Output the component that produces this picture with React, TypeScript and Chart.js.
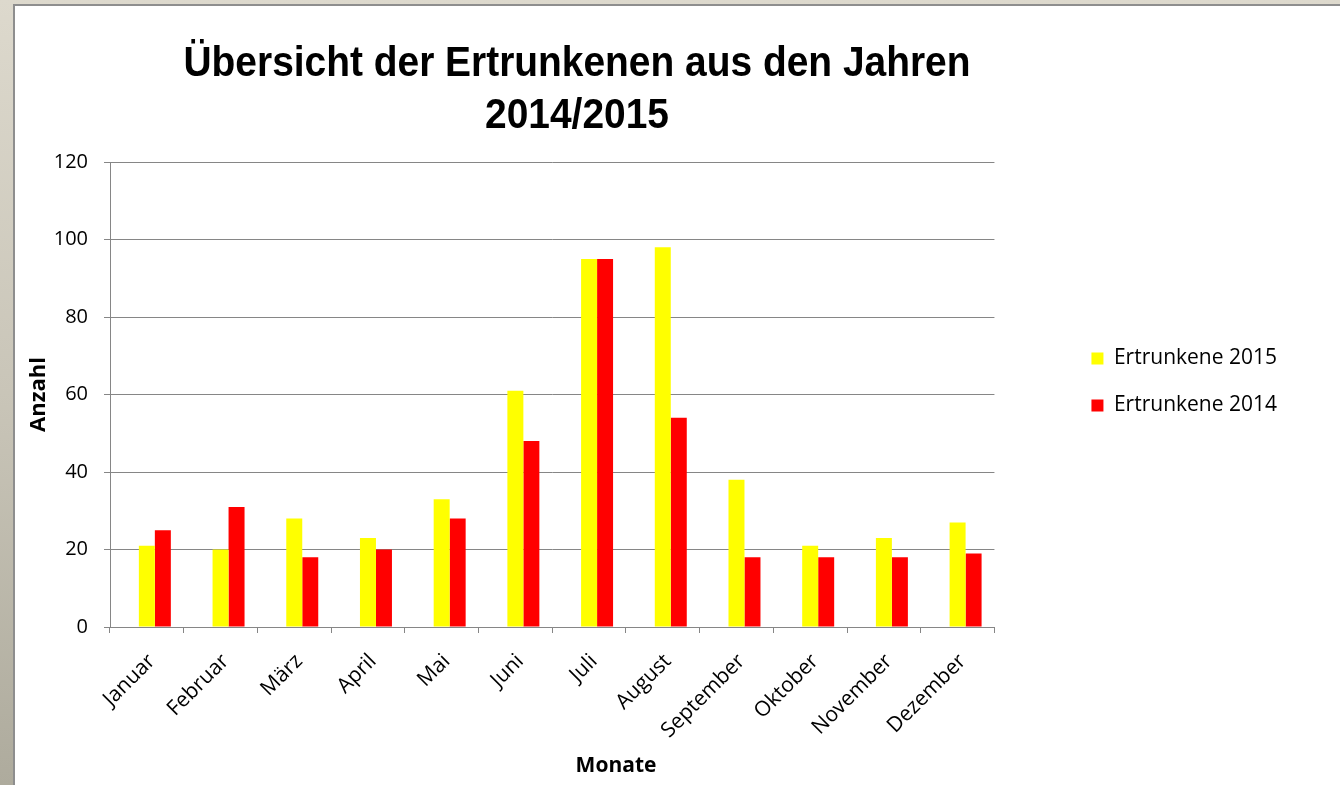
import React, { useEffect, useRef } from "react";
import { Chart, registerables } from "chart.js";

Chart.register(...registerables);

const months = ["Januar", "Februar", "März", "April", "Mai", "Juni", "Juli", "August", "September", "Oktober", "November", "Dezember"];
const values2015 = [21, 20, 28, 23, 33, 61, 95, 98, 38, 21, 23, 27];
const values2014 = [25, 31, 18, 20, 28, 48, 95, 54, 18, 18, 18, 19];
const titleLines = ["Übersicht der Ertrunkenen aus den Jahren", "2014/2015"];
const xAxisTitle = "Monate";
const yAxisTitle = "Anzahl";

const FONT = "'Open Sans', 'Noto Sans', sans-serif";

const titlePlugin = {
  id: "customTitle",
  afterInit(chart: any) {
    const legend = chart.legend;
    if (legend) {
      const origFit = legend.fit.bind(legend);
      legend.fit = function () {
        this.maxWidth = 400;
        origFit();
      };
    }
  },
  beforeDatasetsDraw(chart: any) {
    chart.ctx.save();
    chart.ctx.translate(8, 0);
  },
  afterDatasetsDraw(chart: any) {
    chart.ctx.restore();
  },
  afterDraw(chart: any) {
    const ctx = chart.ctx as CanvasRenderingContext2D;
    ctx.save();
    ctx.fillStyle = "#000";
    ctx.textAlign = "center";
    ctx.textBaseline = "alphabetic";
    ctx.font = "bold 42px 'Liberation Sans Narrow', 'Liberation Sans', Arial, sans-serif";
    const target = 787;
    const w = ctx.measureText(titleLines[0]).width;
    const cx = 562;
    if (w <= target - 20) {
      (ctx as any).letterSpacing = ((target - w) / (titleLines[0].length - 1)).toFixed(2) + "px";
      titleLines.forEach((line, i) => ctx.fillText(line, cx, 70 + i * 52));
    } else {
      const sx = target / w;
      ctx.translate(cx, 0);
      ctx.scale(sx, 1);
      titleLines.forEach((line, i) => ctx.fillText(line, 0, 70 + i * 52));
    }
    ctx.restore();

    ctx.save();
    ctx.fillStyle = "#000";
    ctx.textAlign = "center";
    ctx.textBaseline = "middle";
    ctx.font = "bold 21px " + FONT;
    ctx.fillText(xAxisTitle, 601, 760);
    ctx.restore();
  },
};

export default function App() {
  const ref = useRef<HTMLCanvasElement | null>(null);

  useEffect(() => {
    if (!ref.current) return;
    const chart = new Chart(ref.current, {
      type: "bar",
      data: {
        labels: months,
        datasets: [
          { label: "Ertrunkene 2015", data: values2015, backgroundColor: "#ffff00", borderWidth: 0 },
          { label: "Ertrunkene 2014", data: values2014, backgroundColor: "#ff0000", borderWidth: 0 },
        ],
      },
      plugins: [titlePlugin],
      options: {
        responsive: false,
        animation: false,
        devicePixelRatio: 1,
        layout: { padding: { left: 11, right: 53, top: 156, bottom: 8 } },
        datasets: { bar: { categoryPercentage: 0.434, barPercentage: 1 } },
        plugins: {
          title: { display: false },
          legend: {
            position: "right",
            align: "start",
            fullSize: false,
            title: { display: true, text: " ", font: { size: 10, lineHeight: 1.2 }, padding: { top: 148, bottom: 0 } },
            labels: {
              boxWidth: 12,
              boxHeight: 12,
              padding: 26,
              color: "#000",
              font: { family: FONT, size: 21 },
            },
          },
          tooltip: { enabled: false },
        },
        scales: {
          x: {
            grid: { display: true, drawOnChartArea: false, color: "#868686", tickLength: 6, offset: true },
            border: { color: "#868686", width: 1 },
            ticks: { color: "#000", font: { family: FONT, size: 21 }, maxRotation: 45, minRotation: 45, padding: 16, labelOffset: 5 },
            title: { display: false },
            afterFit: (s: any) => { s.height = 150; },
          } as any,
          y: {
            min: 0,
            max: 120,
            ticks: { stepSize: 20, color: "#000", font: { family: FONT, size: 20 }, padding: 16 },
            grid: { color: "#868686", tickLength: 6 },
            border: { color: "#868686", width: 1 },
            title: { display: true, text: yAxisTitle, color: "#000", font: { family: FONT, size: 22, weight: "bold" }, padding: { top: 0, bottom: 6 } },
            afterFit: (s: any) => { s.width = 84; },
          } as any,
          spacer: {
            type: "linear",
            position: "right",
            display: true,
            grid: { display: false, drawOnChartArea: false },
            border: { display: false },
            ticks: { display: false },
            afterFit: (s: any) => { s.width = 71; },
          } as any,
        },
      },
    });
    return () => chart.destroy();
  }, []);

  return (
    <div style={{ position: "fixed", inset: 0, background: "linear-gradient(180deg, #ddd9cd 0%, #c9c5b8 50%, #aeab9d 100%)" }}>
      <div style={{ position: "absolute", left: 13, top: 4, right: 0, bottom: 0, background: "#8e8e8e" }} />
      <div style={{ position: "absolute", left: 15, top: 6, width: 1325, height: 779, background: "#fff" }}>
        <canvas ref={ref} width={1325} height={779} style={{ display: "block" }} />
      </div>
    </div>
  );
}
